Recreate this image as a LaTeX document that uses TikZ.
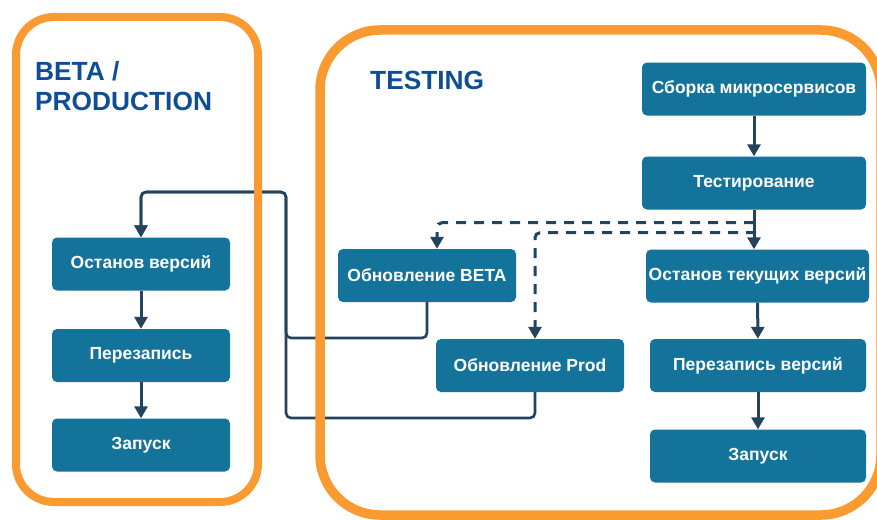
\documentclass[tikz,border=0pt]{standalone}
\usepackage{fontspec}
\setmainfont{Liberation Sans}
\usetikzlibrary{arrows.meta,calc}
\definecolor{boxfill}{HTML}{13739B}
\definecolor{frameorange}{HTML}{FA9B32}
\definecolor{titleblue}{HTML}{0E4E96}
\definecolor{linkcol}{HTML}{24435F}

\begin{document}
\begin{tikzpicture}[x=1pt,y=-1pt,
  stepbox/.style={fill=boxfill, rounded corners=5pt, text=white,
    font=\fontsize{17.5}{20}\selectfont\bfseries, inner sep=0pt, minimum height=53pt},
  frame/.style={draw=frameorange},
  title/.style={text=titleblue, font=\fontsize{26.3}{29}\selectfont\bfseries,
    anchor=base west, inner sep=0pt},
  flow/.style={draw=linkcol, line width=3pt, -{Triangle[width=13pt,length=12pt]}},
  link/.style={flow, dash pattern=on 10pt off 8pt, rounded corners=5pt},
  ret/.style={draw=linkcol, line width=2.6pt, rounded corners=5pt,
    -{Triangle[width=13pt,length=12pt]}}
]
\useasboundingbox (0,0) rectangle (877,519);
\clip (0,0) rectangle (877,519);
\fill[white] (0,0) rectangle (877,519);

% headings
\node[title] (t1) at (35,81) {BETA /};
\node[title] (t2) at (35,110) {PRODUCTION};
\node[title] (t3) at (370,89) {TESTING};

% beta / production column
\node[stepbox, minimum width=178pt] (lstop) at (141,264) {Останов версий};
\node[stepbox, minimum width=178pt] (lrewrite) at (141,355.5) {Перезапись};
\node[stepbox, minimum width=178pt] (lstart) at (141,445) {Запуск};

% update steps
\node[stepbox, minimum width=178pt] (beta) at (427,275.5) {Обновление BETA};
\node[stepbox, minimum width=188pt] (prod) at (530,365.5) {Обновление Prod};

% testing column
\node[stepbox, minimum width=224pt] (build) at (754,89) {Сборка микросервисов};
\node[stepbox, minimum width=224pt] (test) at (754,183) {Тестирование};
\node[stepbox, minimum width=223pt] (rstop) at (757.5,276) {Останов текущих версий};
\node[stepbox, minimum width=216pt] (rrewrite) at (758,365.5) {Перезапись версий};
\node[stepbox, minimum width=216pt] (rstart) at (758,456) {Запуск};

% bends of the return lines
\coordinate (jt) at (286,192);
\coordinate (jb) at (286,338);
\coordinate (jp) at (286,418);

% main flow
\draw[flow] (build) -- (test);
\draw[flow] (test.south) -- (test.south |- rstop.north);
\draw[flow] (rstop) -- (rrewrite);
\draw[flow] (rrewrite) -- (rstart);
\draw[flow] (lstop) -- (lrewrite);
\draw[flow] (lrewrite) -- (lstart);

% optional deployments
\draw[link] ($(test.south)+(0,13)$) -| ($(beta.north)+(10,0)$);
\draw[link] ($(test.south)+(2,23)$) -| ($(prod.north)+(5,0)$);

% hand-over to beta / production
\draw[ret] (beta.south) |- (jb) -- (jt) -| (lstop.north);
\draw[ret] ($(prod.south)+(5,0)$) |- (jp) -- (jt) -| (lstop.north);

% environment frames
\draw[frame, line width=8pt, rounded corners=38pt] (16,17) rectangle (258,502);
\draw[frame, line width=9.5pt, rounded corners=60pt] (320,30) rectangle (881,515);
\end{tikzpicture}
\end{document}
